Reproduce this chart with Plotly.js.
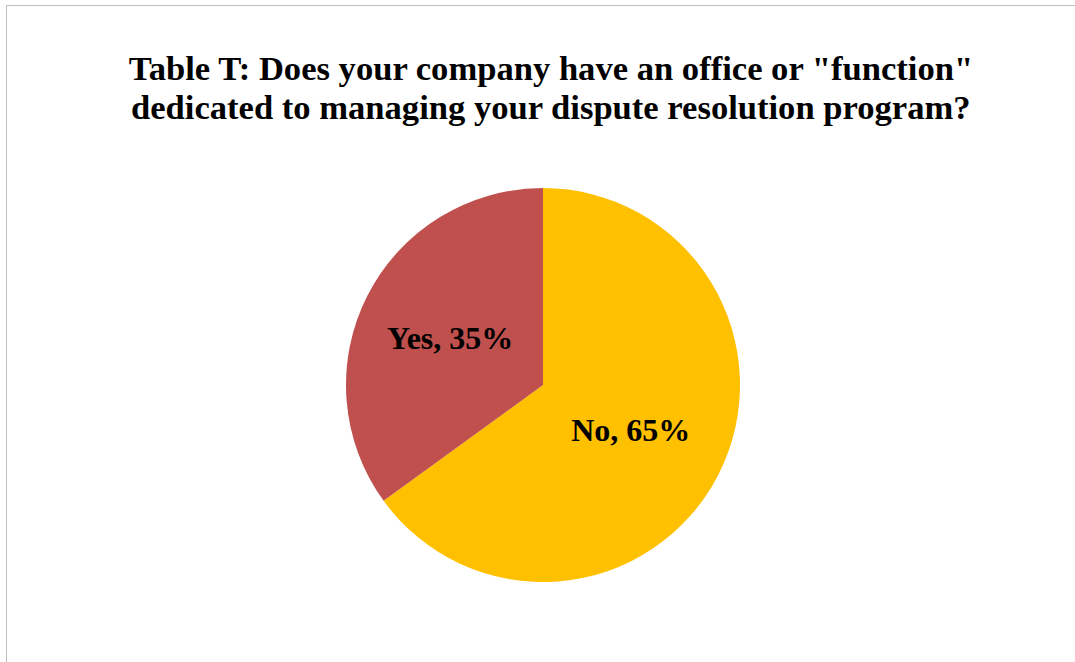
<!DOCTYPE html>
<html>
<head>
<meta charset="utf-8">
<script src="https://cdn.plot.ly/plotly-3.0.1.min.js"></script>
<style>
  html, body { margin: 0; padding: 0; background: #ffffff; }
  #wrap { position: relative; width: 1075px; height: 662px; overflow: hidden; }
  #chart { position: absolute; left: 0; top: 0; width: 1075px; height: 662px; }
  #frame { position: absolute; left: 6px; top: 5px; width: 1080px; height: 670px;
           border-left: 1px solid #bfbfbf; border-top: 1px solid #bfbfbf; pointer-events: none; }
</style>
</head>
<body>
<div id="wrap">
  <div id="chart"></div>
  <div id="frame"></div>
</div>
<script>
const categories = ['No', 'Yes'];
const shares = [65, 35];
const sliceColors = ['#FFC000', '#C0504D'];
const titleLine1 = 'Table T: Does your company have an office or "function"';
const titleLine2 = 'dedicated to managing your dispute resolution program?';

const W = 1075, H = 662;
const cx = 543, cy = 385, r = 197;
const serif = '"Liberation Serif", "Times New Roman", serif';

const trace = {
  type: 'pie',
  labels: categories,
  values: shares,
  sort: false,
  direction: 'clockwise',
  rotation: 0,
  marker: { colors: sliceColors, line: { width: 0 } },
  texttemplate: '%{label}, %{value}%',
  textposition: 'inside',
  insidetextorientation: 'horizontal',
  textfont: { family: serif, size: 32, color: '#000000', weight: 'bold' },
  hoverinfo: 'none',
  showlegend: false,
  domain: {
    x: [(cx - r) / W, (cx + r) / W],
    y: [(H - cy - r) / H, (H - cy + r) / H]
  }
};

const layout = {
  width: W,
  height: H,
  margin: { l: 0, r: 0, t: 0, b: 0 },
  paper_bgcolor: '#ffffff',
  plot_bgcolor: '#ffffff',
  title: {
    text: titleLine1,
    font: { family: serif, size: 34.6, color: '#000000', weight: 'bold' },
    x: 551 / W,
    xanchor: 'center',
    xref: 'paper',
    y: 1 - 68 / H,
    yanchor: 'middle',
    yref: 'container'
  },
  annotations: [{
    text: titleLine2,
    font: { family: serif, size: 34.6, color: '#000000', weight: 'bold' },
    xref: 'paper', yref: 'paper',
    x: 551 / W, xanchor: 'center',
    y: 1 - 107 / H, yanchor: 'middle',
    showarrow: false
  }],
  showlegend: false
};

Plotly.newPlot('chart', [trace], layout, { displayModeBar: false, staticPlot: true });
</script>
</body>
</html>
